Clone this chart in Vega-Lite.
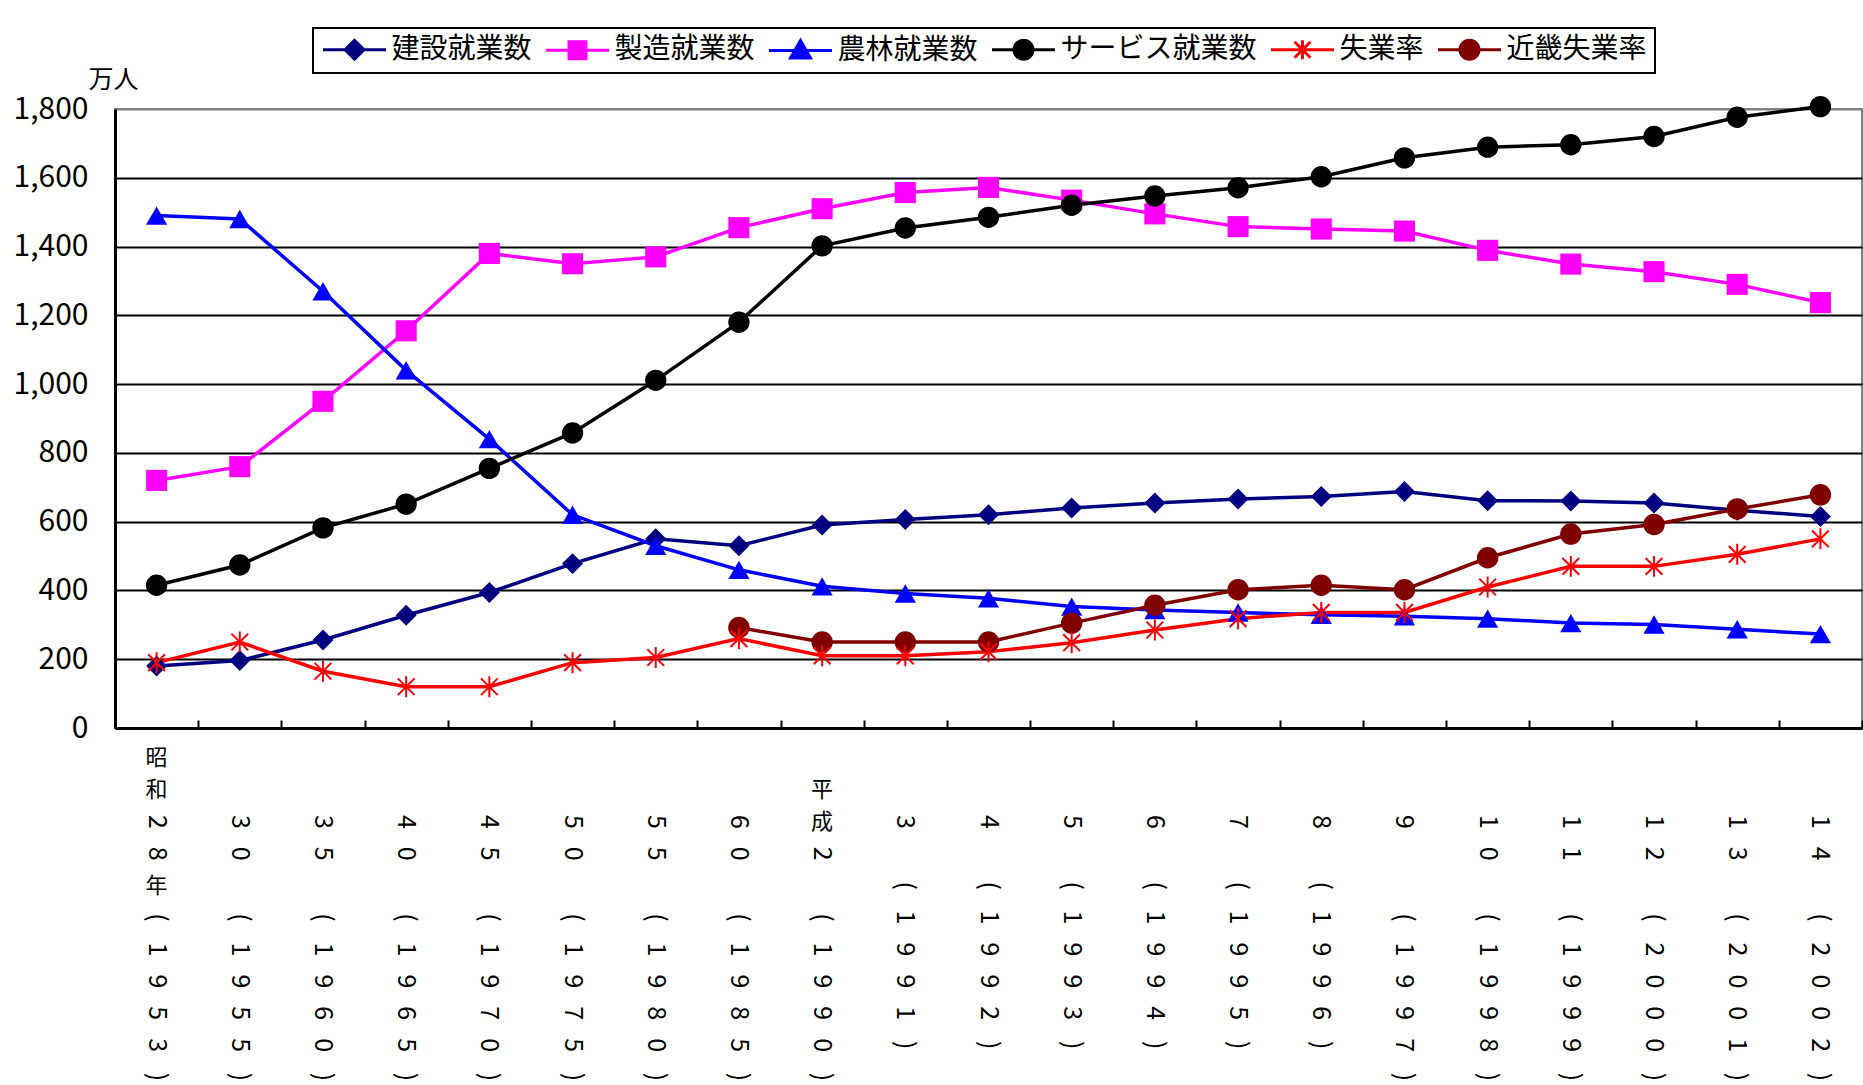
{
  "$schema": "https://vega.github.io/schema/vega-lite/v6.json",
  "background": "white",
  "padding": {"left": 12, "top": 27, "right": 0, "bottom": 0},
  "spacing": 0,
  "config": {"font": "Noto Sans CJK JP"},
  "datasets": {
    "employment": [
      {"year": "昭和28年(1953)", "建設就業数": 180, "製造就業数": 720, "農林就業数": 1490, "サービス就業数": 415, "失業率": 190, "近畿失業率": null},
      {"year": "30(1955)", "建設就業数": 196, "製造就業数": 760, "農林就業数": 1480, "サービス就業数": 474, "失業率": 250, "近畿失業率": null},
      {"year": "35(1960)", "建設就業数": 256, "製造就業数": 950, "農林就業数": 1270, "サービス就業数": 582, "失業率": 165, "近畿失業率": null},
      {"year": "40(1965)", "建設就業数": 328, "製造就業数": 1155, "農林就業数": 1040, "サービス就業数": 651, "失業率": 120, "近畿失業率": null},
      {"year": "45(1970)", "建設就業数": 394, "製造就業数": 1380, "農林就業数": 840, "サービス就業数": 755, "失業率": 120, "近畿失業率": null},
      {"year": "50(1975)", "建設就業数": 478, "製造就業数": 1350, "農林就業数": 620, "サービス就業数": 858, "失業率": 190, "近畿失業率": null},
      {"year": "55(1980)", "建設就業数": 550, "製造就業数": 1370, "農林就業数": 530, "サービス就業数": 1011, "失業率": 205, "近畿失業率": null},
      {"year": "60(1985)", "建設就業数": 530, "製造就業数": 1455, "農林就業数": 460, "サービス就業数": 1180, "失業率": 260, "近畿失業率": 292},
      {"year": "平成2(1990)", "建設就業数": 590, "製造就業数": 1510, "農林就業数": 412, "サービス就業数": 1402, "失業率": 210, "近畿失業率": 250},
      {"year": "3(1991)", "建設就業数": 606, "製造就業数": 1557, "農林就業数": 391, "サービス就業数": 1454, "失業率": 210, "近畿失業率": 250},
      {"year": "4(1992)", "建設就業数": 620, "製造就業数": 1572, "農林就業数": 377, "サービス就業数": 1485, "失業率": 222, "近畿失業率": 250},
      {"year": "5(1993)", "建設就業数": 640, "製造就業数": 1535, "農林就業数": 353, "サービス就業数": 1520, "失業率": 248, "近畿失業率": 305},
      {"year": "6(1994)", "建設就業数": 654, "製造就業数": 1495, "農林就業数": 343, "サービス就業数": 1547, "失業率": 285, "近畿失業率": 357},
      {"year": "7(1995)", "建設就業数": 666, "製造就業数": 1458, "農林就業数": 336, "サービス就業数": 1571, "失業率": 318, "近畿失業率": 402},
      {"year": "8(1996)", "建設就業数": 673, "製造就業数": 1451, "農林就業数": 329, "サービス就業数": 1603, "失業率": 336, "近畿失業率": 415},
      {"year": "9(1997)", "建設就業数": 688, "製造就業数": 1445, "農林就業数": 325, "サービス就業数": 1658, "失業率": 336, "近畿失業率": 402},
      {"year": "10(1998)", "建設就業数": 661, "製造就業数": 1389, "農林就業数": 318, "サービス就業数": 1689, "失業率": 410, "近畿失業率": 495},
      {"year": "11(1999)", "建設就業数": 660, "製造就業数": 1349, "農林就業数": 305, "サービス就業数": 1696, "失業率": 470, "近畿失業率": 564},
      {"year": "12(2000)", "建設就業数": 654, "製造就業数": 1327, "農林就業数": 301, "サービス就業数": 1720, "失業率": 470, "近畿失業率": 592},
      {"year": "13(2001)", "建設就業数": 633, "製造就業数": 1290, "農林就業数": 287, "サービス就業数": 1776, "失業率": 505, "近畿失業率": 637},
      {"year": "14(2002)", "建設就業数": 615, "製造就業数": 1237, "農林就業数": 273, "サービス就業数": 1807, "失業率": 550, "近畿失業率": 678}
    ],
    "yearLabels": [
      {"year": "昭和28年(1953)", "chars": ["昭", "和", "2", "8", "年", "(", "1", "9", "5", "3", ")"]},
      {"year": "30(1955)", "chars": ["", "", "3", "0", "", "(", "1", "9", "5", "5", ")"]},
      {"year": "35(1960)", "chars": ["", "", "3", "5", "", "(", "1", "9", "6", "0", ")"]},
      {"year": "40(1965)", "chars": ["", "", "4", "0", "", "(", "1", "9", "6", "5", ")"]},
      {"year": "45(1970)", "chars": ["", "", "4", "5", "", "(", "1", "9", "7", "0", ")"]},
      {"year": "50(1975)", "chars": ["", "", "5", "0", "", "(", "1", "9", "7", "5", ")"]},
      {"year": "55(1980)", "chars": ["", "", "5", "5", "", "(", "1", "9", "8", "0", ")"]},
      {"year": "60(1985)", "chars": ["", "", "6", "0", "", "(", "1", "9", "8", "5", ")"]},
      {"year": "平成2(1990)", "chars": ["", "平", "成", "2", "", "(", "1", "9", "9", "0", ")"]},
      {"year": "3(1991)", "chars": ["", "", "3", "", "(", "1", "9", "9", "1", ")"]},
      {"year": "4(1992)", "chars": ["", "", "4", "", "(", "1", "9", "9", "2", ")"]},
      {"year": "5(1993)", "chars": ["", "", "5", "", "(", "1", "9", "9", "3", ")"]},
      {"year": "6(1994)", "chars": ["", "", "6", "", "(", "1", "9", "9", "4", ")"]},
      {"year": "7(1995)", "chars": ["", "", "7", "", "(", "1", "9", "9", "5", ")"]},
      {"year": "8(1996)", "chars": ["", "", "8", "", "(", "1", "9", "9", "6", ")"]},
      {"year": "9(1997)", "chars": ["", "", "9", "", "", "(", "1", "9", "9", "7", ")"]},
      {"year": "10(1998)", "chars": ["", "", "1", "0", "", "(", "1", "9", "9", "8", ")"]},
      {"year": "11(1999)", "chars": ["", "", "1", "1", "", "(", "1", "9", "9", "9", ")"]},
      {"year": "12(2000)", "chars": ["", "", "1", "2", "", "(", "2", "0", "0", "0", ")"]},
      {"year": "13(2001)", "chars": ["", "", "1", "3", "", "(", "2", "0", "0", "1", ")"]},
      {"year": "14(2002)", "chars": ["", "", "1", "4", "", "(", "2", "0", "0", "2", ")"]}
    ]
  },
  "resolve": {"scale": {"x": "independent", "y": "independent"}},
  "vconcat": [
    {
      "width": 1747,
      "height": 619,
      "view": {"stroke": "#808080", "strokeWidth": 2},
      "data": {"name": "employment"},
      "transform": [
        {"fold": ["建設就業数", "製造就業数", "農林就業数", "サービス就業数", "失業率", "近畿失業率"], "as": ["series", "value"]}
      ],
      "encoding": {
        "x": {
          "field": "year", "type": "nominal", "sort": null, "bandPosition": 0.5,
          "scale": {"type": "band", "paddingInner": 0, "paddingOuter": 0},
          "axis": {"labels": false, "title": null, "grid": false, "ticks": true, "tickBand": "extent", "tickSize": -8, "tickColor": "black", "tickWidth": 2, "domainColor": "black", "domainWidth": 3}
        },
        "y": {
          "field": "value", "type": "quantitative",
          "scale": {"domain": [0, 1800], "nice": false},
          "axis": {
            "values": [0, 200, 400, 600, 800, 1000, 1200, 1400, 1600, 1800],
            "format": ",d", "labelFontSize": 30, "labelColor": "black", "labelPadding": 27, "ticks": false,
            "domainColor": "black", "domainWidth": 3,
            "grid": true, "gridWidth": 2, "gridOpacity": 1,
            "gridColor": {"condition": {"test": "datum.value === 1800", "value": "#808080"}, "value": "black"},
            "title": "万人", "titleAngle": 0, "titleFontSize": 25, "titleFontWeight": "normal", "titleColor": "black",
            "titleX": -2, "titleY": -30, "titleAlign": "center", "titleBaseline": "middle"
          }
        },
        "color": {
          "field": "series", "type": "nominal",
          "scale": {
            "domain": ["建設就業数", "製造就業数", "農林就業数", "サービス就業数", "失業率", "近畿失業率"],
            "range": ["#000080", "#FF00FF", "#0000FF", "#000000", "#FF0000", "#800000"]
          },
          "legend": {
            "title": null, "orient": "none", "legendX": 198, "legendY": -81, "direction": "horizontal",
            "strokeColor": "black", "fillColor": "white", "padding": 7.5,
            "labelFont": "Noto Sans CJK JP", "labelFontSize": 28, "labelColor": "black", "labelLimit": 0,
            "symbolSize": 400, "symbolStrokeWidth": 3, "symbolOffset": 20, "labelOffset": 23, "columnPadding": 7,
            "encode": {
              "legend": {"update": {"strokeWidth": {"value": 2}}},
              "symbols": {"update": {
                "shape": {"signal": "{'建設就業数': 'M-3.15,0H3.15M-0.95,0L0,-0.95L0.95,0L0,0.95Z', '製造就業数': 'M-3.15,0H3.15M-0.85,-0.85H0.85V0.85H-0.85Z', '農林就業数': 'M-3.15,0H3.15M0,-1L1,0.75H-1Z', 'サービス就業数': 'M-3.15,0H3.15M-0.95,0A0.95,0.95,0,1,0,0.95,0A0.95,0.95,0,1,0,-0.95,0Z', '失業率': 'M-3.15,0H3.15M0,-0.95V0.95M-0.8,-0.8L0.8,0.8M-0.8,0.8L0.8,-0.8', '近畿失業率': 'M-3.15,0H3.15M-0.95,0A0.95,0.95,0,1,0,0.95,0A0.95,0.95,0,1,0,-0.95,0Z'}[datum.value]"},
                "fill": {"signal": "{'建設就業数': '#000080', '製造就業数': '#FF00FF', '農林就業数': '#0000FF', 'サービス就業数': '#000000', '失業率': '#FF0000', '近畿失業率': '#800000'}[datum.value]"},
                "stroke": {"signal": "{'建設就業数': '#000080', '製造就業数': '#FF00FF', '農林就業数': '#0000FF', 'サービス就業数': '#000000', '失業率': '#FF0000', '近畿失業率': '#800000'}[datum.value]"},
                "strokeWidth": {"value": 3},
                "opacity": {"value": 1},
                "fillOpacity": {"value": 1},
                "size": {"value": 400}
              }}
            }
          }
        }
      },
      "layer": [
        {"mark": {"type": "line", "strokeWidth": 3.5}},
        {
          "transform": [{"filter": "datum.series !== '失業率'"}],
          "mark": {"type": "point", "filled": true, "opacity": 1},
          "encoding": {
            "shape": {
              "field": "series", "type": "nominal", "legend": null,
              "scale": {
                "domain": ["建設就業数", "製造就業数", "農林就業数", "サービス就業数", "近畿失業率"],
                "range": ["diamond", "square", "triangle-up", "circle", "circle"]
              }
            },
            "size": {
              "field": "series", "type": "nominal", "legend": null,
              "scale": {
                "domain": ["建設就業数", "製造就業数", "農林就業数", "サービス就業数", "近畿失業率"],
                "range": [440, 460, 520, 500, 470]
              }
            }
          }
        },
        {
          "transform": [{"filter": "datum.series === '失業率'"}],
          "mark": {"type": "point", "filled": false, "opacity": 1, "size": 440, "strokeWidth": 2, "shape": "M0,-1V1M-0.8,-0.8L0.8,0.8M-0.8,0.8L0.8,-0.8"}
        }
      ]
    },
    {
      "width": 1747,
      "height": 356,
      "view": {"stroke": null},
      "data": {"name": "yearLabels"},
      "transform": [
        {"flatten": ["chars"], "as": ["ch"]},
        {"window": [{"op": "row_number", "as": "slot"}], "groupby": ["year"]},
        {"filter": "datum.ch !== ''"}
      ],
      "mark": {"type": "text", "color": "black", "align": "center", "baseline": "middle"},
      "encoding": {
        "x": {
          "field": "year", "type": "nominal", "bandPosition": 0.5, "axis": null,
          "scale": {
            "type": "band", "paddingInner": 0, "paddingOuter": 0,
            "domain": ["昭和28年(1953)", "30(1955)", "35(1960)", "40(1965)", "45(1970)", "50(1975)", "55(1980)", "60(1985)", "平成2(1990)", "3(1991)", "4(1992)", "5(1993)", "6(1994)", "7(1995)", "8(1996)", "9(1997)", "10(1998)", "11(1999)", "12(2000)", "13(2001)", "14(2002)"]
          }
        },
        "y": {
          "field": "slot", "type": "quantitative", "axis": null,
          "scale": {"domain": [0.56, 11.72], "reverse": true, "nice": false, "zero": false}
        },
        "text": {"field": "ch"},
        "angle": {"condition": {"test": "test(/[0-9()]/, datum.ch)", "value": 90}, "value": 0},
        "size": {"condition": {"test": "test(/[0-9()]/, datum.ch)", "value": 25}, "value": 22}
      }
    }
  ]
}
